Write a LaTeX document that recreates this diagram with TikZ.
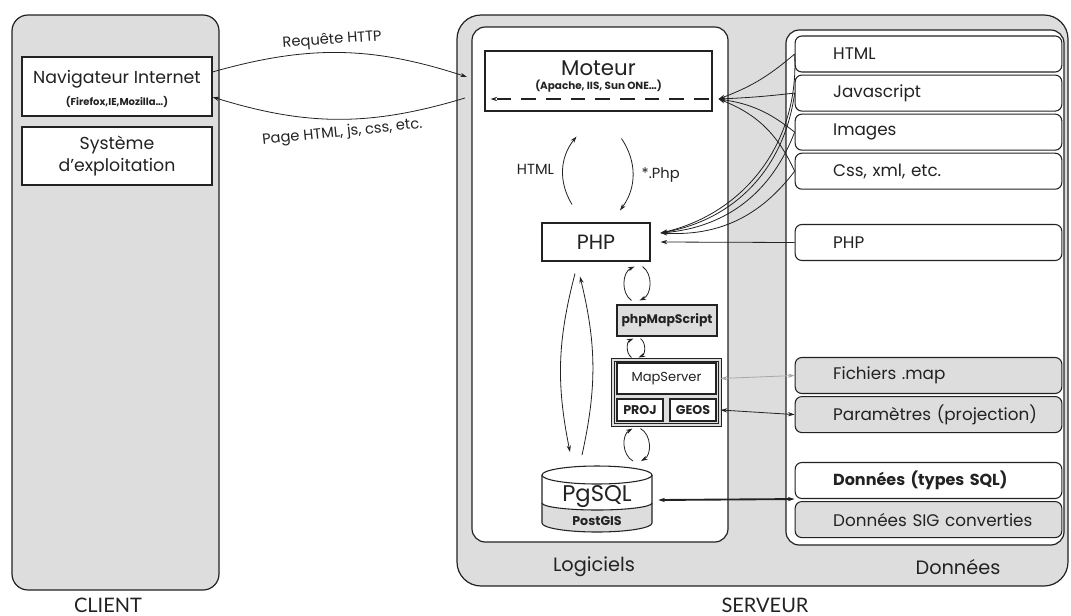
\documentclass[tikz,border=0pt]{standalone}
\usepackage{fontspec}
\setmainfont{Poppins}
\newfontfamily\capsfont{Lato}
\usepackage{tikz}
\usetikzlibrary{arrows.meta,positioning,calc}
\definecolor{srvgray}{HTML}{DDDDDD}
\definecolor{inkgray}{HTML}{222222}
\definecolor{lightink}{HTML}{A8A8A8}

\begin{document}
\begin{tikzpicture}[x=0.75pt,y=-0.75pt,
    panel/.style={draw=inkgray,fill=srvgray,line width=0.9pt,rounded corners=12pt,inner sep=0pt},
    zone/.style={draw=inkgray,fill=white,line width=0.9pt,rounded corners=10pt,inner sep=0pt},
    box/.style={draw=inkgray,fill=white,line width=0.8pt,align=center,inner sep=0pt},
    item/.style={draw=inkgray,fill=white,line width=0.8pt,rounded corners=5pt,minimum width=200pt,
      minimum height=27pt,text width=175pt,inner xsep=12.5pt,inner ysep=0pt,align=left,
      execute at begin node=\hspace*{16pt},font=\fontsize{12.6}{14}\selectfont,text=inkgray},
    gitem/.style={item,fill=srvgray},
    arr/.style={-{Stealth[length=5pt,width=3.2pt]},inkgray,line width=0.6pt},
    darr/.style={{Stealth[length=5pt,width=3.2pt]}-{Stealth[length=5pt,width=3.2pt]},inkgray,line width=0.6pt},
    big/.style={font=\fontsize{13}{17}\selectfont,text=inkgray},
    lbl/.style={font=\fontsize{11}{12}\selectfont,text=inkgray},
    tiny/.style={font=\fontsize{10}{11}\selectfont\bfseries,text=inkgray},
    caps/.style={font=\capsfont\fontsize{15}{17}\selectfont,text=inkgray,anchor=base},
    node distance=1.5pt]
  \useasboundingbox (0,0) rectangle (1071,615);

  % panels
  \node[panel,minimum width=155.25pt,minimum height=431.25pt] (client) at (115.5,302.5) {};
  \node[caps] (clientlbl) at (108,612) {CLIENT};
  \node[panel,rounded corners=18pt,minimum width=458.25pt,minimum height=428.25pt] (srv) at (762.5,300.5) {};
  \node[caps] (srvlbl) at (765,612) {SERVEUR};
  \node[zone,minimum width=192pt,minimum height=386.25pt] (lg) at (600,284.5) {};
  \node[zone,minimum width=208.5pt,minimum height=386.25pt] (dz) at (925,287.5) {};
  \node[big,font=\fontsize{14.5}{17}\selectfont] (lglbl) at (594,567) {Logiciels};
  \node[big,font=\fontsize{14.5}{17}\selectfont] (dzlbl) at (958,567) {Données};

  % client side
  \node[box,minimum width=142.5pt,minimum height=44.25pt] (nav) at (117,86.5) {};
  \node[big] (navlbl) at (117,79) {Navigateur Internet};
  \node[font=\fontsize{7.5}{8}\selectfont\bfseries,text=inkgray] (navsub) at (117,102) {(Firefox,IE,Mozilla\ldots)};
  \node[box,big,minimum width=142.5pt,minimum height=43.5pt] (os) at (117,156) {Système\\d’exploitation};

  % logiciels
  \node[box,minimum width=170.25pt,minimum height=45pt] (mot) at (598.5,81) {};
  \node[big,font=\fontsize{16}{17}\selectfont] (motlbl) at (598.5,68) {Moteur};
  \node[font=\fontsize{7.8}{8}\selectfont\bfseries,text=inkgray] (motsub) at (598.5,86) {(Apache, IIS, Sun ONE\ldots)};
  \node[box,big,font=\fontsize{15.5}{17}\selectfont,minimum width=81pt,minimum height=28.5pt] (php) at (596,242) {PHP};
  \node[box,tiny,font=\fontsize{9.3}{10}\selectfont\bfseries,fill=srvgray,minimum width=75pt,minimum height=23.25pt] (pms) at (667,320.5) {phpMapScript};
  \node[box,fill=srvgray,double=srvgray,double distance=1.2pt,minimum width=80.25pt,minimum height=48.75pt] (msg) at (666.5,392.5) {};
  \node[box,font=\fontsize{9.8}{10}\selectfont,text=inkgray,minimum width=74.25pt,minimum height=23.25pt] (ms) at (666.5,378.5) {MapServer};
  \node[box,tiny,font=\fontsize{9.5}{10}\selectfont\bfseries,minimum width=34.5pt,minimum height=16.5pt] (proj) at (640,410) {PROJ};
  \node[box,tiny,font=\fontsize{9.5}{10}\selectfont\bfseries,minimum width=34.5pt,minimum height=16.5pt] (geos) at (693,410) {GEOS};

  % base PgSQL / PostGIS
  \node[minimum width=82.5pt,minimum height=52pt,inner sep=0pt] (db) at (597,500) {};
  \fill[white] (542,475) -- (542,523) arc[start angle=180,end angle=0,x radius=55,y radius=9] -- (652,475) -- cycle;
  \fill[srvgray] (542,503) arc[start angle=180,end angle=0,x radius=55,y radius=7] -- (652,523)
    arc[start angle=0,end angle=180,x radius=55,y radius=9] -- cycle;
  \draw[inkgray,line width=0.8pt] (542,475) -- (542,523) arc[start angle=180,end angle=0,x radius=55,y radius=9] -- (652,475);
  \draw[inkgray,line width=0.8pt] (542,503) arc[start angle=180,end angle=0,x radius=55,y radius=7];
  \draw[inkgray,line width=0.8pt,fill=white] (597,475) ellipse[x radius=55,y radius=9];
  \node[font=\fontsize{17}{19}\selectfont,text=inkgray] (pgsql) at (597,497) {PgSQL};
  \node[tiny,font=\fontsize{9.5}{10}\selectfont\bfseries] (postgis) at (597,521) {PostGIS};

  % donnees
  \node[item] (html) at (928.5,54) {HTML};
  \node[item,below=of html] (js) {Javascript};
  \node[item,below=of js] (img) {Images};
  \node[item,below=of img] (css) {Css, xml, etc.};
  \node[item] (phpf) at (928.5,242.5) {PHP};
  \node[gitem] (mapf) at (928.5,375.5) {Fichiers .map};
  \node[gitem,below=of mapf] (param) {Paramètres (projection)};
  \node[item,font=\fontsize{12}{14}\selectfont\bfseries] (sql) at (928.5,480.5) {Données (types SQL)};
  \node[gitem,below=of sql] (sig) {Données SIG converties};

  % client <-> moteur
  \coordinate (reqend) at (467,77);
  \coordinate (pagestart) at (465,98);
  \draw[arr] ([yshift=10.9pt]nav.east) to[bend left=17]
    node[lbl,pos=0.47,above,rotate=4] (req) {Requête HTTP} (reqend);
  \draw[arr] (pagestart) to[bend left=17]
    node[lbl,pos=0.49,below=1pt,rotate=6] (page) {Page HTML, js, css, etc.} ([yshift=-7.9pt]nav.east);

  % moteur <-> php
  \draw[arr] ($(php.north)+(-24,-18)$) to[bend left=35] node[lbl,left=3pt] (htmllbl) {HTML} ($(mot.south)+(-22,25)$);
  \draw[arr] ($(mot.south)+(23,27)$) to[bend left=35] node[lbl,right=3pt] (phplbl) {*.Php} ($(php.north)+(24,-12)$);

  % ressources statiques
  \coordinate (motport) at ($(mot.east)+(6,18)$);
  \coordinate (phpport) at ($(php.east)+(10,-9)$);
  \draw[arr,line width=1.1pt,dash pattern=on 11pt off 7.5pt] ($(mot.east)+(-4,18)$) -- ($(mot.west)+(6,18)$);
  \draw[arr] (html.west) to[bend left=10] (motport);
  \draw[arr] (js.west) to[bend left=2] (motport);
  \draw[arr] (img.west) to[bend right=15] (motport);
  \draw[arr] (css.west) to[bend right=22] (motport);
  \draw[arr] (html.west) to[bend left=40] (phpport);
  \draw[arr] (js.west) to[bend left=36] (phpport);
  \draw[arr] (img.west) to[bend left=32] (phpport);
  \draw[arr] (css.west) to[bend left=28] (phpport);
  \draw[arr] (phpf.west) -- ($(php.east)+(10,0)$);

  % php <-> base
  \draw[arr] ($(php.south)+(-21,12)$) to[bend right=13] ($(db.north)+(-27,-13)$);
  \draw[arr] ($(db.north)+(-15,-10)$) to[bend right=13] ($(php.south)+(-16,15)$);

  % liaisons courtes
  \draw[arr] ($(pms.north west)+(15,-4)$) to[bend left=60] ($(php.south east)+(-16,5)$);
  \draw[arr] ($(php.south east)+(-8,5)$) to[bend left=60] ($(pms.north west)+(23,-4)$);
  \draw[arr] ($(msg.north west)+(19,-2)$) to[bend left=60] ($(pms.south west)+(17,2)$);
  \draw[arr] ($(pms.south west)+(24,2)$) to[bend left=60] ($(msg.north west)+(26,-2)$);
  \draw[arr] ($(db.north)+(36,-4)$) to[bend left=60] ($(msg.south west)+(20,3)$);
  \draw[arr] ($(msg.south west)+(28,3)$) to[bend left=60] ($(db.north)+(44,-4)$);

  % fichiers de configuration
  \draw[darr,lightink] (msg.east |- ms.east) -- (mapf.west);
  \draw[darr] (msg.east |- geos.east) -- (param.west);
  \draw[darr,line width=1.4pt] ($(db.east)+(6,0)$) -- (sql.south west);
\end{tikzpicture}
\end{document}
